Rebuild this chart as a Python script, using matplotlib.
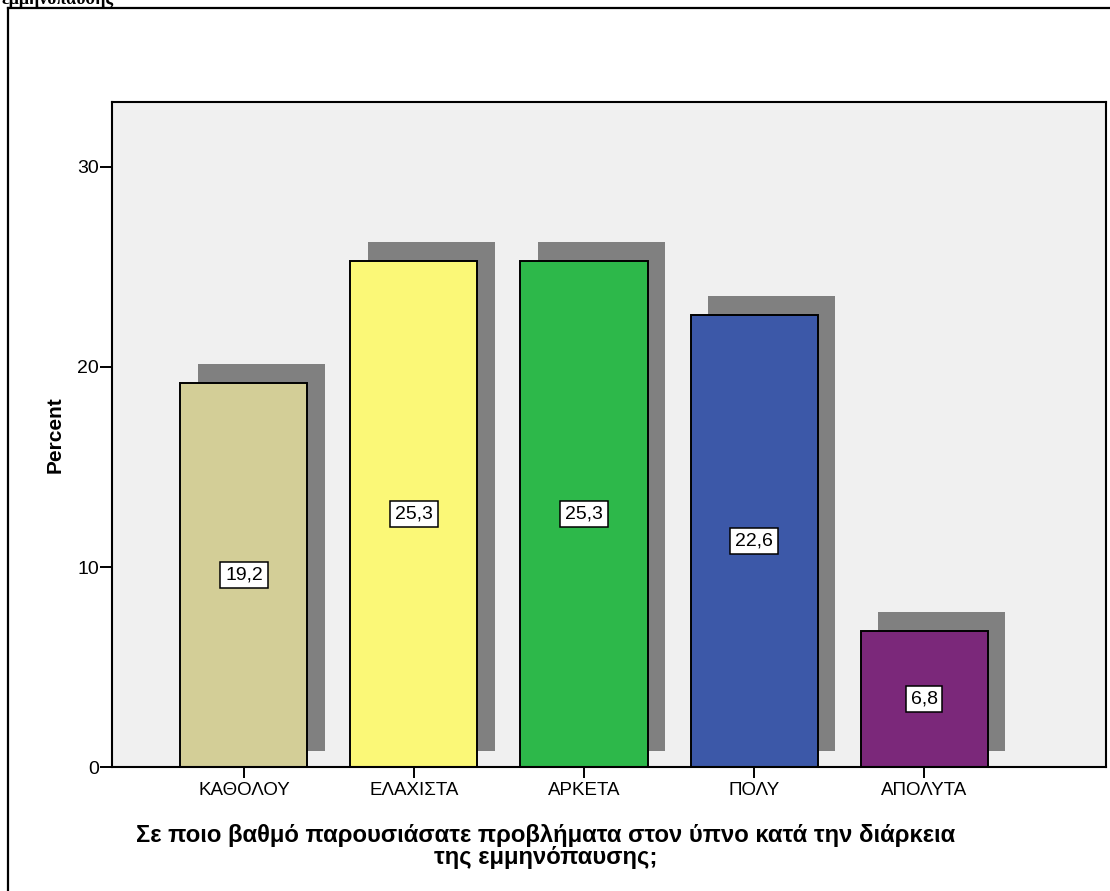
import numpy as np
import matplotlib.pyplot as plt
from matplotlib.lines import Line2D

plt.rcParams['font.family'] = ['Liberation Sans', 'DejaVu Sans']

categories = ['ΚΑΘΟΛΟΥ', 'ΕΛΑΧΙΣΤΑ', 'ΑΡΚΕΤΑ', 'ΠΟΛΥ', 'ΑΠΟΛΥΤΑ']
percent = [19.2, 25.3, 25.3, 22.6, 6.8]
value_labels = ['19,2', '25,3', '25,3', '22,6', '6,8']
bar_colors = ['#D3CE97', '#FBF877', '#2DB84A', '#3C58A8', '#7B287A']
y_ticks = [0, 10, 20, 30]

x_label = 'Σε ποιο βαθμό παρουσιάσατε προβλήματα στον ύπνο κατά την διάρκεια\nτης εμμηνόπαυσης;'
y_label = 'Percent'

W, H = 1110, 891
fig = plt.figure(figsize=(W / 100, H / 100), dpi=100)

# clipped title line left over from the page above
fig.text(2 / W, 1 - 4 / H, 'εμμηνόπαυσης', family='Liberation Serif',
         fontweight='bold', fontsize=13, va='baseline', ha='left')

# outer frame (left and top edges)
fig.add_artist(Line2D([8 / W, 8 / W], [0, 1 - 8 / H], color='black', lw=1.6))
fig.add_artist(Line2D([8 / W, 1], [1 - 8 / H, 1 - 8 / H], color='black', lw=1.6))

left, right, top, bottom = 112, 1106, 102, 767
ax = fig.add_axes([left / W, 1 - bottom / H, (right - left) / W, (bottom - top) / H])
ax.set_facecolor('#F0F0F0')

x = np.arange(len(categories))
width = 0.747
dx, dy = 0.105, 0.95

# drop shadows behind the bars
ax.bar(x + dx, np.array(percent) + dy - 0.8, width=width, bottom=0.8,
       color='#808080', edgecolor='none', zorder=1)
ax.bar(x, percent, width=width, color=bar_colors, edgecolor='black',
       linewidth=1.4, zorder=2)

for xi, val, lab in zip(x, percent, value_labels):
    ax.text(xi, val / 2, lab, ha='center', va='center', fontsize=14, zorder=3,
            bbox=dict(boxstyle='square,pad=0.25', fc='white', ec='black', lw=1.1))

ax.set_xlim(-0.776, 5.07)
ax.set_ylim(0, 33.25)
ax.set_xticks(x)
ax.set_xticklabels(categories, fontsize=13.5)
ax.set_yticks(y_ticks)
ax.set_yticklabels([str(t) for t in y_ticks], fontsize=14)
ax.tick_params(axis='x', length=8, width=1.4, pad=3)
ax.tick_params(axis='y', length=8.5, width=1.4, pad=1)
for sp in ax.spines.values():
    sp.set_linewidth(1.5)

ax.set_ylabel(y_label, fontsize=15, fontweight='bold', labelpad=9)
ax.set_xlabel(x_label, fontsize=17.2, fontweight='bold', linespacing=0.95)
ax.xaxis.set_label_coords(0.436, -0.086, transform=ax.transAxes)
ax.xaxis.label.set_va('top')

fig.savefig('out.png', dpi=100)
